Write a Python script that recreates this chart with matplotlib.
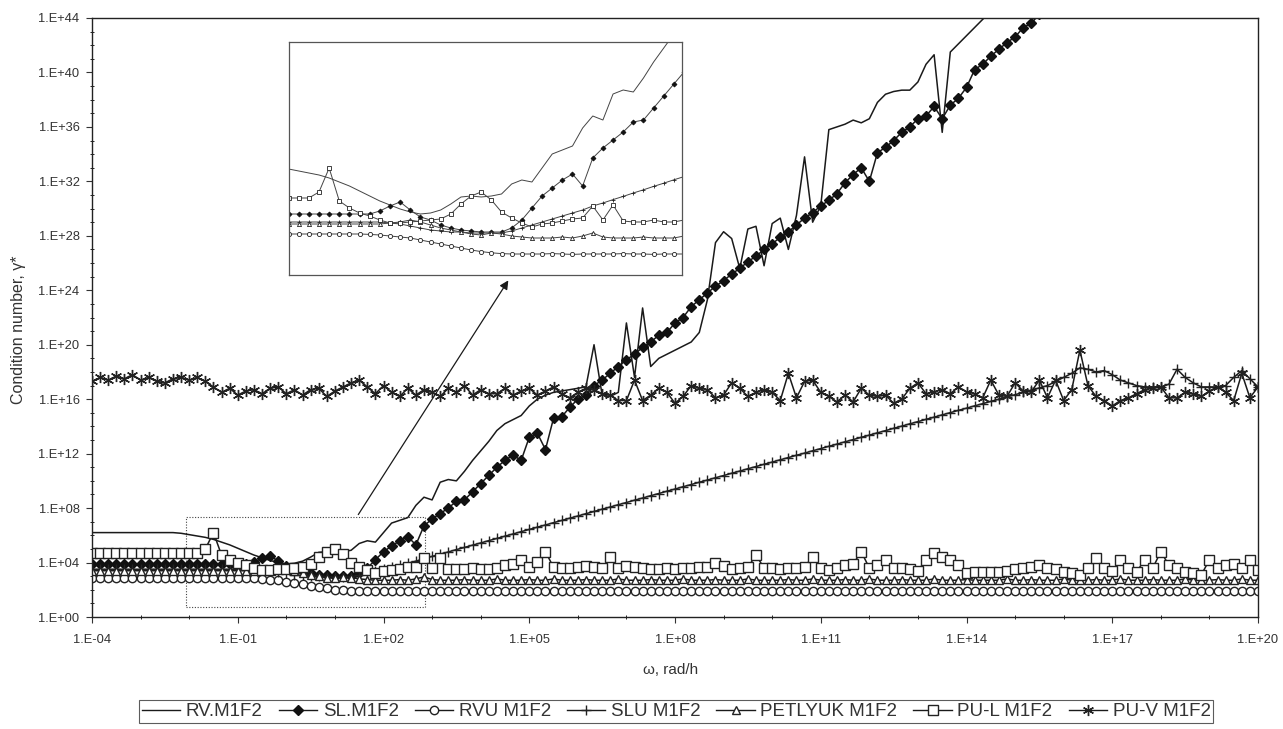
import numpy as np
import matplotlib
matplotlib.use("Agg")
import matplotlib.pyplot as plt
from matplotlib.patches import Rectangle
from matplotlib.lines import Line2D
from matplotlib.ticker import FixedLocator, FuncFormatter, NullFormatter

plt.rcParams['font.family'] = ['Liberation Sans', 'DejaVu Sans']

# frequency sweep, 6 points per decade
omega = np.logspace(-4, 20, 145)

# log10 of the condition number, one value per frequency (one decade per row)
lg_rv = [
    6.2, 6.2, 6.2, 6.2, 6.2, 6.2,
    6.2, 6.2, 6.2, 6.2, 6.2, 6.15,
    6.05, 5.95, 5.85, 5.7, 5.5, 5.3,
    5.05, 4.8, 4.55, 4.35, 4.15, 4.0,
    3.9, 3.95, 4.1, 4.4, 4.75, 4.8,
    4.75, 4.8, 4.9, 5.4, 5.6, 5.5,
    6.2, 6.9, 7.1, 7.3, 8.2, 8.8,
    8.6, 9.9, 10.1, 10.0, 10.7, 11.5,
    12.2, 12.9, 13.7, 14.2, 14.5, 14.8,
    15.5, 16.0, 16.3, 16.5, 16.6, 16.7,
    16.8, 16.9, 20.0, 16.3, 16.2, 16.5,
    21.6, 17.6, 22.7, 18.4, 19.0, 19.3,
    19.6, 19.9, 20.2, 20.9, 23.3, 27.5,
    28.3, 27.8, 25.6, 28.5, 28.7, 25.8,
    28.9, 29.3, 27.0, 29.5, 33.8, 29.0,
    30.2, 35.8, 36.0, 36.2, 36.5, 36.3,
    36.6, 37.8, 38.4, 38.6, 38.7, 38.7,
    39.3, 40.6, 41.3, 35.6, 41.5, 42.1,
    42.7, 43.3, 43.9, 44.5]

lg_sl = [
    3.9, 3.9, 3.9, 3.9, 3.9, 3.9,
    3.9, 3.9, 3.9, 3.9, 3.9, 3.9,
    3.9, 3.9, 3.9, 3.9, 3.9, 3.9,
    3.9, 3.9, 4.05, 4.3, 4.5, 4.1,
    3.75, 3.6, 3.35, 3.2, 3.1, 3.05,
    3.0, 3.0, 3.0, 3.2, 3.6, 4.2,
    4.8, 5.2, 5.6, 5.9, 5.3, 6.7,
    7.2, 7.6, 8.0, 8.5, 8.6, 9.2,
    9.8, 10.4, 11.0, 11.5, 11.9, 11.5,
    13.2, 13.5, 12.3, 14.6, 14.7, 15.4,
    16.0, 16.3, 17.0, 17.4, 17.9, 18.4,
    18.9, 19.3, 19.8, 20.2, 20.7, 20.9,
    21.6, 22.0, 22.8, 23.3, 23.8, 24.3,
    24.7, 25.2, 25.6, 26.1, 26.5, 27.0,
    27.4, 27.9, 28.3, 28.8, 29.3, 29.7,
    30.2, 30.6, 31.1, 31.9, 32.5, 33.0,
    32.0, 34.1, 34.5, 35.0, 35.6, 36.0,
    36.6, 36.8, 37.5, 36.6, 37.6, 38.1,
    38.9, 40.2, 40.6, 41.2, 41.7, 42.2,
    42.6, 43.3, 43.6, 44.3]

lg_rvu = [
    2.9, 2.9, 2.9, 2.9, 2.9, 2.9,
    2.9, 2.9, 2.9, 2.9, 2.9, 2.9,
    2.9, 2.9, 2.9, 2.9, 2.9, 2.9,
    2.9, 2.88, 2.85, 2.8, 2.75, 2.7,
    2.6, 2.5, 2.4, 2.3, 2.2, 2.1,
    2.02, 1.96, 1.92, 1.9, 1.9, 1.9,
    1.9, 1.92, 1.9, 1.88, 1.9, 1.9,
    1.9, 1.9, 1.92, 1.9, 1.9, 1.88,
    1.9, 1.9, 1.9, 1.92, 1.9, 1.9,
    1.88, 1.9, 1.9, 1.9, 1.92, 1.9,
    1.9, 1.9, 1.88, 1.9, 1.9, 1.9,
    1.92, 1.9, 1.9, 1.9, 1.88, 1.9,
    1.9, 1.9, 1.92, 1.9, 1.9, 1.9,
    1.88, 1.9, 1.9, 1.92, 1.9, 1.9,
    1.9, 1.88, 1.9, 1.9, 1.9, 1.92,
    1.9, 1.9, 1.88, 1.9, 1.9, 1.9,
    1.92, 1.9, 1.9, 1.88, 1.9, 1.9,
    1.9, 1.92, 1.9, 1.9, 1.88, 1.9,
    1.9, 1.9, 1.92, 1.9, 1.9, 1.88,
    1.9, 1.9, 1.9, 1.92, 1.9, 1.9,
    1.88, 1.9, 1.9, 1.9, 1.92, 1.9,
    1.9, 1.88, 1.9, 1.9, 1.9, 1.92,
    1.9, 1.9, 1.88, 1.9, 1.9, 1.9,
    1.92, 1.9, 1.9, 1.88, 1.9, 1.9,
    1.9]

lg_slu = [
    3.5, 3.5, 3.5, 3.5, 3.5, 3.5,
    3.5, 3.5, 3.5, 3.5, 3.5, 3.5,
    3.5, 3.5, 3.5, 3.5, 3.5, 3.5,
    3.5, 3.5, 3.5, 3.45, 3.4, 3.3,
    3.2, 3.1, 3.05, 3.0, 3.0, 2.95,
    2.95, 2.95, 2.95, 3.05, 3.2, 3.35,
    3.5, 3.65, 3.8, 3.95, 4.1, 4.3,
    4.45, 4.62, 4.78, 4.95, 5.11, 5.28,
    5.44, 5.61, 5.77, 5.94, 6.10, 6.27,
    6.43, 6.60, 6.76, 6.93, 7.09, 7.26,
    7.42, 7.59, 7.75, 7.92, 8.08, 8.25,
    8.41, 8.58, 8.74, 8.91, 9.07, 9.24,
    9.40, 9.57, 9.73, 9.90, 10.06, 10.23,
    10.39, 10.56, 10.72, 10.89, 11.05, 11.22,
    11.38, 11.55, 11.71, 11.88, 12.04, 12.21,
    12.37, 12.54, 12.70, 12.87, 13.03, 13.20,
    13.36, 13.53, 13.69, 13.86, 14.02, 14.19,
    14.35, 14.52, 14.68, 14.85, 15.01, 15.18,
    15.34, 15.51, 15.67, 15.84, 16.00, 16.17,
    16.33, 16.50, 16.66, 16.83, 17.0, 17.3,
    17.6, 17.9, 18.3, 18.2, 18.0, 18.1,
    17.8, 17.4, 17.2, 17.0, 16.9, 16.9,
    16.9, 17.1, 18.2, 17.6, 17.2, 16.9,
    16.9, 16.9, 17.0, 17.6, 18.1, 17.5,
    16.9]

lg_petlyuk = [
    3.4, 3.4, 3.4, 3.4, 3.4, 3.4,
    3.4, 3.4, 3.4, 3.4, 3.4, 3.4,
    3.4, 3.4, 3.4, 3.4, 3.4, 3.4,
    3.4, 3.4, 3.4, 3.45, 3.5, 3.6,
    3.5, 3.35, 3.2, 3.1, 3.0, 2.9,
    2.85, 2.95, 2.9, 2.8, 2.75, 2.7,
    2.7, 2.7, 2.75, 2.7, 2.8, 2.95,
    2.75, 2.7, 2.7, 2.7, 2.75, 2.7,
    2.7, 2.7, 2.8, 2.7, 2.7, 2.7,
    2.75, 2.7, 2.7, 2.8, 2.7, 2.7,
    2.7, 2.75, 2.7, 2.7, 2.7, 2.8,
    2.7, 2.7, 2.7, 2.75, 2.7, 2.7,
    2.7, 2.8, 2.7, 2.7, 2.7, 2.75,
    2.7, 2.7, 2.7, 2.8, 2.7, 2.7,
    2.7, 2.7, 2.75, 2.7, 2.7, 2.8,
    2.7, 2.7, 2.7, 2.75, 2.7, 2.7,
    2.8, 2.7, 2.7, 2.7, 2.75, 2.7,
    2.7, 2.7, 2.8, 2.7, 2.7, 2.7,
    2.75, 2.7, 2.7, 2.7, 2.7, 2.8,
    2.7, 2.7, 2.75, 2.7, 2.7, 2.7,
    2.8, 2.7, 2.7, 2.7, 2.75, 2.7,
    2.7, 2.8, 2.7, 2.7, 2.7, 2.75,
    2.7, 2.7, 2.7, 2.8, 2.7, 2.7,
    2.7, 2.75, 2.7, 2.7, 2.8, 2.7,
    2.7]

lg_pul = [
    4.7, 4.7, 4.7, 4.7, 4.7, 4.7,
    4.7, 4.7, 4.7, 4.7, 4.7, 4.7,
    4.7, 4.7, 5.0, 6.2, 4.55, 4.2,
    3.95, 3.8, 3.6, 3.45, 3.45, 3.5,
    3.55, 3.6, 3.65, 3.9, 4.4, 4.8,
    5.0, 4.6, 4.0, 3.7, 3.45, 3.25,
    3.4, 3.45, 3.55, 3.65, 3.7, 4.3,
    3.6, 4.35, 3.55, 3.5, 3.5, 3.6,
    3.5, 3.5, 3.6, 3.8, 3.9, 4.2,
    3.7, 4.05, 4.8, 3.65, 3.6, 3.6,
    3.7, 3.75, 3.65, 3.6, 4.4, 3.6,
    3.75, 3.65, 3.6, 3.55, 3.55, 3.6,
    3.55, 3.6, 3.6, 3.65, 3.7, 4.0,
    3.75, 3.55, 3.6, 3.65, 4.55, 3.6,
    3.6, 3.55, 3.6, 3.6, 3.7, 4.4,
    3.6, 3.45, 3.6, 3.8, 3.9, 4.8,
    3.6, 3.8, 4.2, 3.6, 3.6, 3.55,
    3.4, 4.2, 4.7, 4.4, 4.2, 3.8,
    3.2, 3.3, 3.3, 3.3, 3.3, 3.4,
    3.5, 3.6, 3.7, 3.8, 3.6, 3.5,
    3.3, 3.2, 3.1, 3.6, 4.3, 3.6,
    3.4, 4.2, 3.6, 3.3, 4.2, 3.6,
    4.8, 3.8, 3.6, 3.3, 3.2, 3.1,
    4.2, 3.6, 3.8, 3.9, 3.6, 4.2,
    3.45]

lg_puv = [
    17.3, 17.6, 17.4, 17.7, 17.5, 17.8,
    17.4, 17.6, 17.3, 17.2, 17.5, 17.6,
    17.4, 17.6, 17.3, 16.9, 16.5, 16.8,
    16.3, 16.6, 16.7, 16.4, 16.8, 16.9,
    16.4, 16.7, 16.3, 16.7, 16.8, 16.2,
    16.6, 16.9, 17.2, 17.4, 16.9, 16.4,
    17.0, 16.5, 16.2, 16.8, 16.3, 16.7,
    16.5, 16.2, 16.8, 16.5, 17.0, 16.3,
    16.7, 16.4, 16.4, 16.8, 16.3, 16.6,
    16.8, 16.3, 16.6, 16.9, 16.4, 16.1,
    16.5, 16.8, 16.7, 16.4, 16.3, 15.9,
    15.9, 17.4, 15.9, 16.3, 16.8, 16.5,
    15.7, 16.2, 17.0, 16.8, 16.7, 16.1,
    16.3, 17.2, 16.8, 16.2, 16.5, 16.7,
    16.5, 15.9, 17.9, 16.1, 17.3, 17.4,
    16.5, 16.2, 15.8, 16.3, 15.8, 16.8,
    16.3, 16.2, 16.3, 15.7, 16.0, 16.8,
    17.2, 16.4, 16.55, 16.7, 16.4, 16.9,
    16.55, 16.4, 16.1, 17.4, 16.3, 16.2,
    17.2, 16.6, 16.55, 17.4, 16.1, 17.4,
    15.9, 16.7, 19.6, 17.0, 16.2, 15.9,
    15.5, 15.9, 16.1, 16.4, 16.7, 16.8,
    16.9, 16.1, 16.1, 16.5, 16.4, 16.2,
    16.6, 16.9, 16.5, 15.9, 17.9, 16.1,
    16.9]

labels = ["RV.M1F2", "SL.M1F2", "RVU M1F2", "SLU M1F2",
          "PETLYUK M1F2", "PU-L M1F2", "PU-V M1F2"]
values = [lg_rv, lg_sl, lg_rvu, lg_slu, lg_petlyuk, lg_pul, lg_puv]
styles = [
    dict(marker=None),
    dict(marker='D', ms=5.0, mfc='#111', mec='#111'),
    dict(marker='o', ms=6.0, mfc='white', mec='#222', mew=1.0),
    dict(marker='+', ms=7.0, mec='#222', mew=1.0),
    dict(marker='^', ms=6.0, mfc='white', mec='#222', mew=1.0),
    dict(marker='s', ms=6.5, mfc='white', mec='#222', mew=1.0),
    dict(marker=(6, 2, 0), ms=8, mec='#222', mew=1.0),
]
ink = '#1a1a1a'

fig = plt.figure(figsize=(12.83, 7.29), dpi=100)
ax = fig.add_axes([92 / 1283, 112 / 729, 1166 / 1283, 599 / 729])

for lab, lg, st in zip(labels, values, styles):
    ax.plot(omega[:len(lg)], 10.0 ** np.array(lg), color=ink, lw=1.1,
            label=lab, **st)

ax.set_xscale('log')
ax.set_yscale('log')
ax.set_xlim(1e-4, 1e20)
ax.set_ylim(1e0, 1e44)

excel_fmt = FuncFormatter(lambda v, _: "1.E%+03d" % round(np.log10(v)))
ax.xaxis.set_major_locator(FixedLocator(10.0 ** np.arange(-4, 21, 3)))
ax.xaxis.set_minor_locator(FixedLocator(10.0 ** np.arange(-4, 21, 1)))
ax.yaxis.set_major_locator(FixedLocator(10.0 ** np.arange(0, 45, 4)))
ax.yaxis.set_minor_locator(FixedLocator(10.0 ** np.arange(0, 45, 1)))
ax.xaxis.set_major_formatter(excel_fmt)
ax.yaxis.set_major_formatter(excel_fmt)
ax.xaxis.set_minor_formatter(NullFormatter())
ax.yaxis.set_minor_formatter(NullFormatter())
ax.tick_params(which='major', length=4, width=0.8, labelsize=9.3,
               colors='#333', direction='out')
ax.tick_params(which='minor', length=2.5, width=0.6, direction='inout')
ax.tick_params(axis='x', which='major', pad=8)
ax.tick_params(axis='y', which='major', pad=5)
for sp in ax.spines.values():
    sp.set_linewidth(1.0)
    sp.set_color('#222')

ax.set_ylabel("Condition number, γ*", fontsize=11.5, color='#333')
ax.yaxis.set_label_coords(-0.057, 0.48)
ax.set_xlabel("ω, rad/h", fontsize=11, color='#333')
ax.xaxis.set_label_coords(0.496, -0.077)

# dotted frame around the low-frequency region shown in the inset
bx0, bx1, by0, by1 = 10 ** -2.06, 10 ** 2.85, 10 ** 0.73, 10 ** 7.35
ax.add_patch(Rectangle((bx0, by0), bx1 - bx0, by1 - by0, fill=False,
                       ls=(0, (1, 1.5)), lw=0.8, ec='#444'))
ax.annotate("", xy=(10 ** 4.6, 10 ** 24.9), xytext=(10 ** 1.45, by1),
            arrowprops=dict(arrowstyle='-|>', lw=0.9, color=ink,
                            mutation_scale=13))

# inset: magnified view of the same curves
axi = fig.add_axes([289 / 1283, 454 / 729, 393 / 1283, 233 / 729])
for lg, st in zip(values, styles):
    small = dict(st)
    if 'ms' in small:
        small['ms'] = small['ms'] * 0.5
        small['mew'] = 0.6
    axi.plot(omega[:len(lg)], 10.0 ** np.array(lg), color='#444', lw=0.7,
             **small)
axi.set_xscale('log')
axi.set_yscale('log')
axi.set_xlim(10 ** -2.16, 10 ** 4.3)
axi.set_ylim(10 ** 0.85, 10 ** 12.5)
axi.set_xticks([])
axi.set_yticks([])
axi.minorticks_off()
for sp in axi.spines.values():
    sp.set_linewidth(0.9)
    sp.set_color('#555')

handles = [Line2D([], [], color=ink, lw=1.0, **st) for st in styles]
leg = fig.legend(handles, labels, loc='lower center',
                 bbox_to_anchor=(0.527, 0.008), ncol=7, fontsize=13.5,
                 frameon=True, fancybox=False, edgecolor='#333',
                 handlelength=2.05, handletextpad=0.3, columnspacing=0.85,
                 borderpad=0.15, borderaxespad=0.0)
leg.get_frame().set_linewidth(0.8)
for t in leg.get_texts():
    t.set_color('#333')

fig.savefig("out.png", dpi=100)
